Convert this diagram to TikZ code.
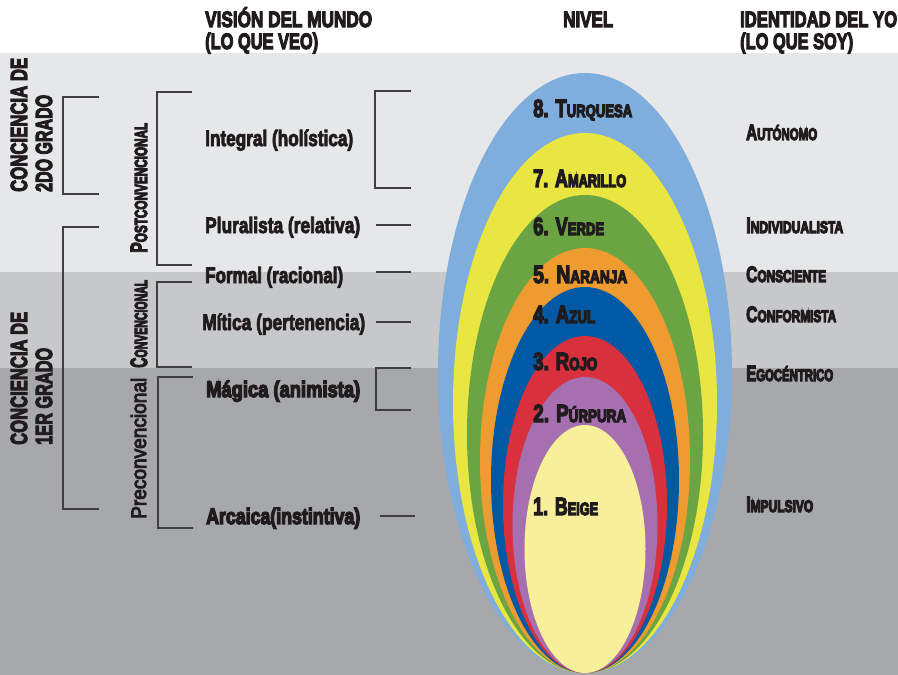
\documentclass[tikz,border=0pt]{standalone}
\usepackage{fontspec}
\usepackage{graphicx}
\setmainfont{Liberation Sans}
\definecolor{txt}{RGB}{32,28,29}
\definecolor{bgA}{RGB}{230,231,232}
\definecolor{bgB}{RGB}{199,200,202}
\definecolor{bgC}{RGB}{167,168,171}
\definecolor{cTurq}{RGB}{127,174,221}
\definecolor{cAmar}{RGB}{233,229,65}
\definecolor{cVerde}{RGB}{107,165,67}
\definecolor{cNar}{RGB}{239,155,47}
\definecolor{cAzul}{RGB}{0,89,165}
\definecolor{cRojo}{RGB}{217,48,62}
\definecolor{cPurp}{RGB}{166,111,175}
\definecolor{cBeige}{RGB}{248,239,154}
\newcommand\thk[2]{\special{pdf:literal direct 2 Tr #1 w}#2\special{pdf:literal direct 0 Tr}}
\newcommand\fitw[2]{\resizebox{#1pt}{\height}{\thk{1.2}{#2}}}
\newcommand\fitwl[2]{\resizebox{#1pt}{\height}{\thk{0.9}{#2}}}
\newcommand\fitwh[2]{\resizebox{#1pt}{\height}{\thk{1.4}{#2}}}
\newcommand\fitwp[2]{\resizebox{#1pt}{\height}{\thk{1.0}{#2}}}
\newcommand\lvl[3]{\resizebox{#1pt}{\height}{\thk{1.4}{\fontsize{25}{25}\selectfont #2\fontsize{17.7}{18}\selectfont #3}}}
\newcommand\idt[3]{\resizebox{#1pt}{\height}{\thk{1.3}{\fontsize{22.3}{22}\selectfont #2\fontsize{16.8}{17}\selectfont #3}}}
\newcommand\rsc[3]{\resizebox{#1pt}{\height}{\thk{1.2}{\fontsize{23.7}{24}\selectfont #2\fontsize{17.5}{18}\selectfont #3}}}
\begin{document}
\begin{tikzpicture}[x=1pt,y=-1pt,
  lbl/.style={inner sep=0pt, anchor=base west, text=txt, font=\bfseries\fontsize{22.3}{22}\selectfont},
  rlbl/.style={lbl, rotate=90, font=\bfseries\fontsize{23.3}{23}\selectfont},
  prelbl/.style={lbl, rotate=90, font=\fontsize{21}{21}\selectfont},
  brk/.style={draw=txt!85, line width=1.1pt}]
\useasboundingbox (0,0) rectangle (898,675);
% background bands
\fill[white] (0,0) rectangle (898,53);
\fill[bgA] (0,53) rectangle (898,272);
\fill[bgB] (0,272) rectangle (898,368);
\fill[bgC] (0,368) rectangle (898,675);
% nested ellipses
\fill[cTurq]  (585,373)   ellipse [x radius=147pt,  y radius=300pt];
\fill[cAmar]  (585,403)   ellipse [x radius=132pt,  y radius=270pt];
\fill[cVerde] (585,434)   ellipse [x radius=118pt,  y radius=239pt];
\fill[cNar]   (585,460.5) ellipse [x radius=105pt,  y radius=212.5pt];
\fill[cAzul]  (585,480)   ellipse [x radius=94pt,   y radius=193pt];
\fill[cRojo]  (585,504.5) ellipse [x radius=82pt,   y radius=168.5pt];
\fill[cPurp]  (585,525)   ellipse [x radius=72.5pt, y radius=148pt];
\fill[cBeige] (585,549)   ellipse [x radius=60.5pt, y radius=124pt];
% headers
\node[lbl] (h1a) at (205,27) {\fitw{167}{VISIÓN DEL MUNDO}};
\node[lbl] (h1b) at (205,49) {\fitw{113}{(LO QUE VEO)}};
\node[lbl] (h2)  at (563,27) {\fitw{50}{NIVEL}};
\node[lbl] (h3a) at (740,27) {\fitw{157}{IDENTIDAD DEL YO}};
\node[lbl] (h3b) at (740,49) {\fitw{113}{(LO QUE SOY)}};
% left rotated labels
\node[rlbl] (ca1) at (27,192) {\fitw{134}{CONCIENCIA DE}};
\node[rlbl] (ca2) at (52,192) {\fitw{97}{2DO GRADO}};
\node[rlbl] (cb1) at (27,445) {\fitw{133}{CONCIENCIA DE}};
\node[rlbl] (cb2) at (52,445) {\fitw{97}{1ER GRADO}};
\node[rlbl] (post) at (147,253) {\rsc{130}{P}{OSTCONVENCIONAL}};
\node[rlbl] (conv) at (147,368) {\rsc{88}{C}{ONVENCIONAL}};
\node[prelbl] (pre) at (146,519) {\fitwp{141}{Preconvencional}};
% brackets
\draw[brk] (99,97) -- (63,97) -- (63,194) -- (99,194);
\draw[brk] (99,227) -- (63,227) -- (63,509) -- (99,509);
\draw[brk] (192,92) -- (157,92) -- (157,265) -- (192,265);
\draw[brk] (192,282) -- (157,282) -- (157,367) -- (192,367);
\draw[brk] (193,377) -- (158,377) -- (158,528) -- (193,528);
\draw[brk] (411,91) -- (375,91) -- (375,188) -- (411,188);
\draw[brk] (411,368) -- (376,368) -- (376,410) -- (411,410);
\draw[brk] (376,225) -- (411,225);
\draw[brk] (376,272) -- (411,272);
\draw[brk] (376,322) -- (411,322);
\draw[brk] (380,516) -- (415,516);
% world view labels
\node[lbl] (integral) at (205,146) {\fitwl{148}{Integral (holística)}};
\node[lbl] (plural)   at (205,233) {\fitwl{155}{Pluralista (relativa)}};
\node[lbl] (formal)   at (205,283) {\fitwl{138}{Formal (racional)}};
\node[lbl] (mitica)   at (202,330) {\fitwl{163}{Mítica (pertenencia)}};
\node[lbl] (magica)   at (206,397) {\fitwh{154}{Mágica (animista)}};
\node[lbl] (arcaica)  at (206,524) {\fitwh{154}{Arcaica(instintiva)}};
% level labels
\node[lbl] (l8) at (533,117) {\lvl{99}{8. T}{URQUESA}};
\node[lbl] (l7) at (533,187) {\lvl{93}{7. A}{MARILLO}};
\node[lbl] (l6) at (533,235) {\lvl{71}{6. V}{ERDE}};
\node[lbl] (l5) at (533,283) {\lvl{94}{5. N}{ARANJA}};
\node[lbl] (l4) at (533,323) {\lvl{62}{4. A}{ZUL}};
\node[lbl] (l3) at (533,370) {\lvl{64}{3. R}{OJO}};
\node[lbl] (l2) at (533,422) {\lvl{93}{2. P}{ÚRPURA}};
\node[lbl] (l1) at (533,515) {\lvl{65}{1. B}{EIGE}};
% identity labels
\node[lbl] (i1) at (746,140) {\idt{71}{A}{UTÓNOMO}};
\node[lbl] (i2) at (746,233) {\idt{97}{I}{NDIVIDUALISTA}};
\node[lbl] (i3) at (746,282) {\idt{80}{C}{ONSCIENTE}};
\node[lbl] (i4) at (746,322) {\idt{90}{C}{ONFORMISTA}};
\node[lbl] (i5) at (746,381) {\idt{87}{E}{GOCÉNTRICO}};
\node[lbl] (i6) at (746,512) {\idt{67}{I}{MPULSIVO}};
\end{tikzpicture}
\end{document}
